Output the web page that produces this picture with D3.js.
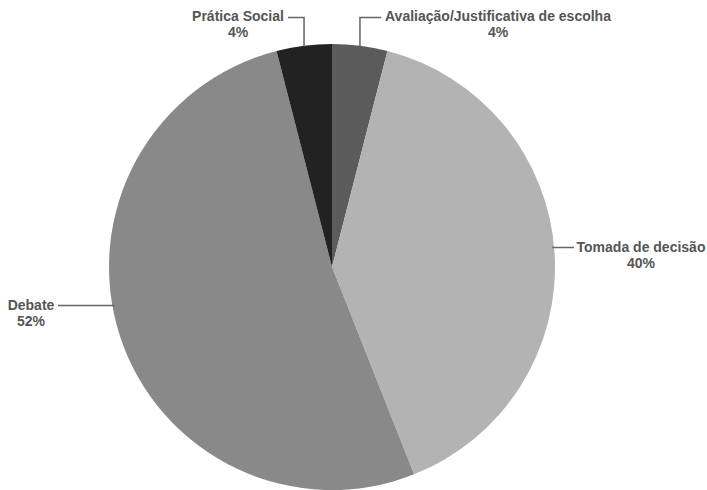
<!DOCTYPE html>
<html>
<head>
<meta charset="utf-8">
<script src="https://cdn.jsdelivr.net/npm/d3@7"></script>
<style>
  html, body { margin: 0; padding: 0; background: #fff; }
  svg { display: block; }
  text { font-family: "Liberation Sans", Arial, sans-serif; font-weight: bold; font-size: 14px; fill: #555; }
</style>
</head>
<body>
<svg id="chart" width="707" height="490"></svg>
<script>
// Categories and their shares (%), clockwise from 12 o'clock
const categories = ["Avaliação/Justificativa de escolha", "Tomada de decisão", "Debate", "Prática Social"];
const shares = [4, 40, 52, 4];
const fills = ["#5b5b5b", "#b3b3b3", "#898989", "#222222"];

const width = 707, height = 490;
const cx = 332, cy = 267, radius = 223;

const svg = d3.select("#chart");
const g = svg.append("g").attr("transform", `translate(${cx},${cy})`);

const pie = d3.pie().sort(null).value(d => d.value);
const arc = d3.arc().innerRadius(0).outerRadius(radius);

const data = categories.map((c, i) => ({ name: c, value: shares[i], fill: fills[i] }));
const arcs = pie(data);

g.selectAll("path.slice")
  .data(arcs)
  .join("path")
  .attr("class", "slice")
  .attr("d", arc)
  .attr("fill", d => d.data.fill);

// Label placement: text anchor point and leader-line style per slice
const labelLayout = [
  { x: 498, y: 21, kind: "elbow", hx: 381 },   // Avaliação
  { x: 641, y: 252, kind: "side", lx: 574 },   // Tomada
  { x: 31, y: 310, kind: "side", lx: 58 },     // Debate
  { x: 238, y: 21, kind: "elbow", hx: 288 }    // Prática
];

const labels = svg.append("g");
arcs.forEach((a, i) => {
  const L = labelLayout[i];
  const mid = (a.startAngle + a.endAngle) / 2;
  let pts;
  if (L.kind === "elbow") {
    // vertical from slice edge at mid angle, then horizontal to the text
    const ex = cx + radius * Math.sin(mid);
    const ey = cy - radius * Math.cos(mid);
    pts = [[L.hx, 17.5], [ex, 17.5], [ex, ey + 1]];
  } else {
    // horizontal line touching the pie rim at the label height
    const ly = L.y - 4.5;
    const dy = ly - cy;
    const half = Math.sqrt(radius * radius - dy * dy);
    const ex = L.lx > cx ? cx + half - 2 : cx - half + 2;
    pts = [[L.lx, ly], [ex, ly]];
  }
  labels.append("path")
    .attr("d", d3.line()(pts))
    .attr("fill", "none")
    .attr("stroke", "#666")
    .attr("stroke-width", 1.5);

  const t = labels.append("text").attr("text-anchor", "middle");
  t.append("tspan").attr("x", L.x).attr("y", L.y).text(a.data.name);
  t.append("tspan").attr("x", L.x).attr("y", L.y + 16).text(a.data.value + "%");
});
</script>
</body>
</html>
